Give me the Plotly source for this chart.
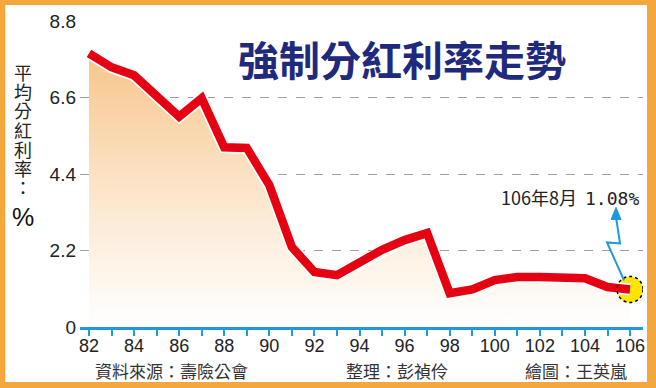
import plotly.graph_objects as go

years = list(range(82, 107))
rates = [7.87, 7.47, 7.24, 6.63, 6.05, 6.58, 5.17, 5.15, 4.08, 2.30, 1.58, 1.49,
         1.84, 2.22, 2.50, 2.70, 0.97, 1.08, 1.35, 1.44, 1.44, 1.43, 1.40, 1.15, 1.08]
ytick_vals = [0, 2.2, 4.4, 6.6, 8.8]
ytick_text = ["0", "2.2", "4.4", "6.6", "8.8"]
xtick_vals = list(range(82, 107))
xtick_text = [str(v) if v % 2 == 0 else "" for v in xtick_vals]

title_text = "強制分紅利率走勢"
ytitle_chars = ["平", "均", "分", "紅", "利", "率", "："]
note_date = "106年8月"
note_value = "1.08%"
credits = ["資料來源：壽險公會", "整理：彭禎伶", "繪圖：王英嵐"]

W, H = 656, 388
ML, MR, MT, MB = 80, 11, 21, 61
PW = W - ML - MR
PH = H - MT - MB


def px(x):
    return (x - ML) / PW


def py(y):
    return (H - MB - y) / PH


CJK = "Noto Sans CJK TC"
NUM = "Liberation Sans, Arial, sans-serif"
RED = "#E50012"
BLUE = "#1E9AD8"
ORANGE = "#F4A73C"

fig = go.Figure()

fig.add_trace(go.Scatter(
    x=years, y=rates, mode="lines", fill="tozeroy",
    line=dict(width=0, color="rgba(0,0,0,0)"),
    fillgradient=dict(type="vertical", start=0, stop=7.9,
                      colorscale=[[0, "#FFFFFF"], [0.45, "#FCE8D0"], [1, "#F7C58A"]]),
    hoverinfo="skip", showlegend=False))

fig.add_trace(go.Scatter(
    x=[years[-1]], y=[rates[-1]], mode="markers",
    marker=dict(size=26, color="#FFE500", line=dict(width=0)),
    hoverinfo="skip", showlegend=False))

fig.add_trace(go.Scatter(
    x=years, y=rates, mode="lines",
    line=dict(width=12, color="white"),
    hoverinfo="skip", showlegend=False))

fig.add_trace(go.Scatter(
    x=years, y=rates, mode="lines",
    line=dict(width=8.5, color=RED),
    hoverinfo="skip", showlegend=False))

shapes = [
    dict(type="rect", xref="paper", yref="paper",
         x0=px(5), x1=px(649), y0=py(382), y1=py(5),
         fillcolor="white", line=dict(width=0), layer="below"),
    dict(type="circle", xref="x", yref="y",
         xsizemode="pixel", ysizemode="pixel",
         xanchor=years[-1], yanchor=rates[-1],
         x0=-13, x1=13, y0=-13, y1=13,
         line=dict(color="black", width=1.5, dash="dot"), layer="above"),
    dict(type="path", xref="x", yref="y",
         xsizemode="pixel", ysizemode="pixel",
         xanchor=years[-1], yanchor=rates[-1],
         path="M -6 9 L -23 47 L -10 46 L -14 72",
         line=dict(color=BLUE, width=2), layer="above"),
    dict(type="path", xref="x", yref="y",
         xsizemode="pixel", ysizemode="pixel",
         xanchor=years[-1], yanchor=rates[-1],
         path="M -14 82 L -19 70 L -9 70 Z",
         fillcolor=BLUE, line=dict(color=BLUE, width=1), layer="above"),
]

ytitle_html = "<br>".join(
    f"<span style='font-size:18px'>{ch}</span>" for ch in ytitle_chars)

annotations = [
    dict(text=title_text, xref="paper", yref="paper", x=px(403), y=py(58),
         showarrow=False, xanchor="center", yanchor="middle",
         font=dict(family=CJK, size=41, color="#1F2A7C", weight="bold")),
    dict(text=f"{note_date}  <span style='font-family:DejaVu Sans Mono'>{note_value}</span>",
         xref="paper", yref="paper", x=px(643), y=py(197),
         showarrow=False, xanchor="right", yanchor="middle",
         font=dict(family=CJK, size=18, color="#222222")),
    dict(text=ytitle_html, xref="paper", yref="paper", x=px(23), y=py(57),
         showarrow=False, xanchor="center", yanchor="top",
         font=dict(family=CJK, size=14.8, color="#222222")),
    dict(text="%", xref="paper", yref="paper", x=px(23), y=py(217),
         showarrow=False, xanchor="center", yanchor="middle",
         font=dict(family=NUM, size=25, color="#111111")),
]
for cx, txt in zip([93, 345, 525], credits):
    annotations.append(dict(
        text=txt, xref="paper", yref="paper", x=px(cx), y=py(370),
        showarrow=False, xanchor="left", yanchor="middle",
        font=dict(family=CJK, size=17, color="#333333")))

fig.update_layout(
    width=W, height=H,
    margin=dict(l=ML, r=MR, t=MT, b=MB),
    paper_bgcolor=ORANGE,
    plot_bgcolor="rgba(0,0,0,0)",
    shapes=shapes,
    annotations=annotations,
    xaxis=dict(
        range=[82 - 9 / 22.625, 82 - 9 / 22.625 + PW / 22.625],
        tickvals=xtick_vals, ticktext=xtick_text,
        showline=True, linecolor=BLUE, linewidth=3,
        ticks="outside", ticklen=6, tickwidth=2, tickcolor=BLUE,
        showgrid=False, zeroline=False,
        ticklabelstandoff=-6,
        tickfont=dict(family=NUM, size=18, color="#222222"),
    ),
    yaxis=dict(
        range=[0, 8.8],
        tickvals=ytick_vals, ticktext=ytick_text,
        showgrid=True, gridcolor="#A0A0A0", gridwidth=1, griddash="dash",
        zeroline=False, showline=False, ticks="",
        ticklabelstandoff=3,
        tickfont=dict(family=NUM, size=19, color="#222222"),
    ),
)

fig.write_html("out.html")
